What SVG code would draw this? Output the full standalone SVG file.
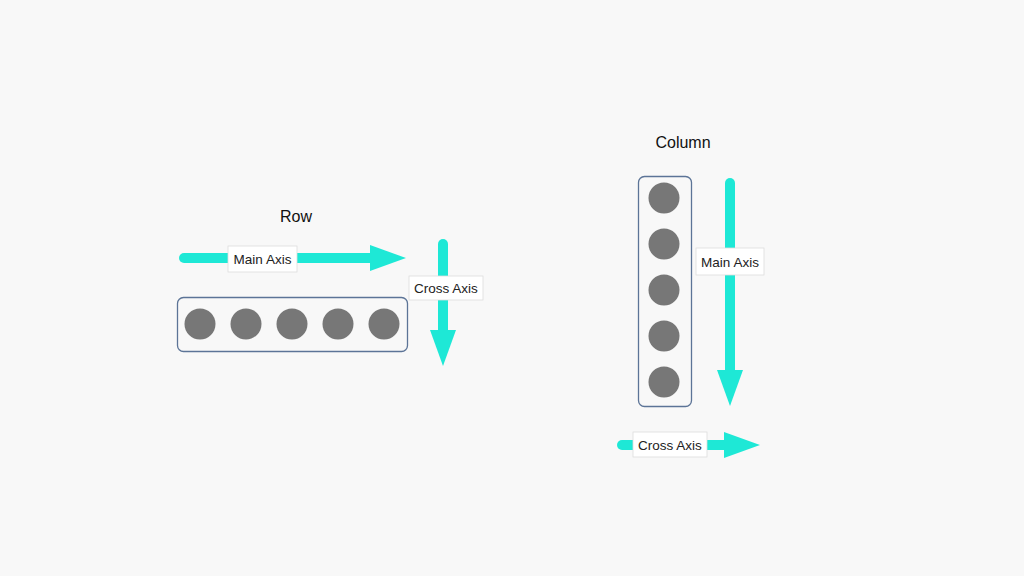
<svg xmlns="http://www.w3.org/2000/svg" width="1024" height="576" viewBox="0 0 1024 576">
<style>
.t{font-family:"Liberation Sans",Arial,sans-serif;fill:#111}
.lbl{font-family:"Liberation Sans",Arial,sans-serif;font-size:13.5px;fill:#222}
.ax{stroke:#1ee8d6;stroke-width:10;stroke-linecap:round;fill:none}
.hd{fill:#1ee8d6}
.box{fill:none;stroke:#5c7497;stroke-width:1.3}
.dot{fill:#777}
.lb{fill:#fff;stroke:#ddd;stroke-width:0.8}
</style>
<rect width="1024" height="576" fill="#f8f8f8"/>
<g id="connectors">
<line class="ax" x1="184" y1="258" x2="372" y2="258"/>
<polygon class="hd" points="370,245 406,258 370,271"/>
<line class="ax" x1="443" y1="244" x2="443" y2="332"/>
<polygon class="hd" points="430,330 443,366 456,330"/>
<line class="ax" x1="730" y1="183" x2="730" y2="372"/>
<polygon class="hd" points="717,370 730,406 743,370"/>
<line class="ax" x1="622" y1="445" x2="726" y2="445"/>
<polygon class="hd" points="724,432 760,445 724,458"/>
</g>
<g id="row-title"><text class="t" x="296" y="222" font-size="16" text-anchor="middle">Row</text></g>
<g id="row-main-label"><rect class="lb" x="228" y="246" width="69" height="26"/><text class="lbl" x="262.5" y="263.5" text-anchor="middle">Main Axis</text></g>
<g id="row-cross-label"><rect class="lb" x="409" y="276" width="74" height="24"/><text class="lbl" x="446" y="292.5" text-anchor="middle">Cross Axis</text></g>
<g id="row-box">
<rect class="box" x="177.5" y="297.5" width="230" height="54" rx="6"/>
<circle class="dot" cx="200" cy="324" r="15.5"/>
<circle class="dot" cx="246" cy="324" r="15.5"/>
<circle class="dot" cx="292" cy="324" r="15.5"/>
<circle class="dot" cx="338" cy="324" r="15.5"/>
<circle class="dot" cx="384" cy="324" r="15.5"/>
</g>
<g id="column-title"><text class="t" x="683" y="148" font-size="16" text-anchor="middle">Column</text></g>
<g id="column-box">
<rect class="box" x="638.5" y="176.5" width="53" height="230" rx="6"/>
<circle class="dot" cx="664" cy="198" r="15.5"/>
<circle class="dot" cx="664" cy="244" r="15.5"/>
<circle class="dot" cx="664" cy="290" r="15.5"/>
<circle class="dot" cx="664" cy="336" r="15.5"/>
<circle class="dot" cx="664" cy="382" r="15.5"/>
</g>
<g id="column-main-label"><rect class="lb" x="696" y="248" width="68" height="27"/><text class="lbl" x="730" y="266.5" text-anchor="middle">Main Axis</text></g>
<g id="column-cross-label"><rect class="lb" x="633" y="432" width="74" height="25"/><text class="lbl" x="670" y="449.5" text-anchor="middle">Cross Axis</text></g>
</svg>
